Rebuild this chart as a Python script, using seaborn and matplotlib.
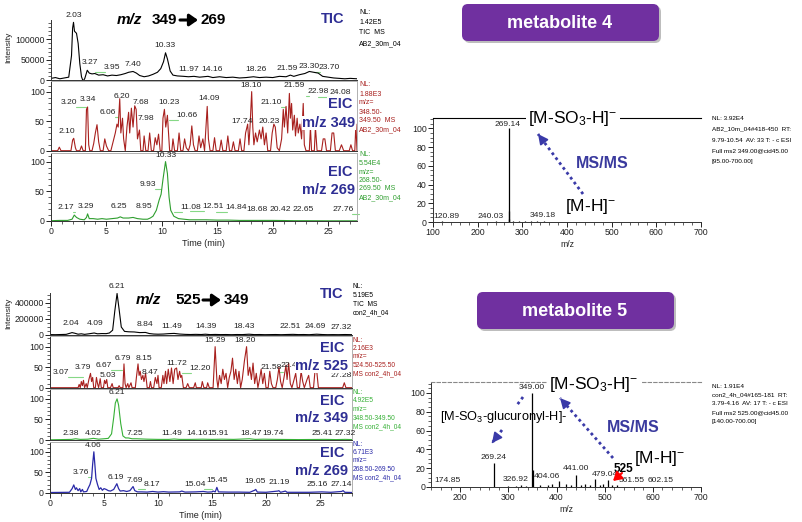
import matplotlib
matplotlib.use("Agg")
import matplotlib.pyplot as plt
import matplotlib.transforms as mtransforms
import pandas as pd
import seaborn as sns
from matplotlib.ticker import MultipleLocator, FuncFormatter
from matplotlib.patches import FancyBboxPatch

sns.set_style("ticks")
plt.rcParams["font.family"] = ["Liberation Sans", "DejaVu Sans"]
plt.rcParams["mathtext.fontset"] = "custom"
plt.rcParams["mathtext.rm"] = "Liberation Sans"
plt.rcParams["mathtext.it"] = "Liberation Sans:italic"
plt.rcParams["mathtext.bf"] = "Liberation Sans:bold"

# ---------------- data (time in min, intensity) ----------------
# metabolite 4 : TIC (x1000 counts)
TIC4 = [(0.0, 4), (0.4, 6), (0.8, 3), (1.2, 5), (1.6, 7), (1.85, 60), (1.95, 128), (2.03, 142),
        (2.12, 120), (2.3, 115), (2.45, 90), (2.6, 40), (2.75, 8), (2.9, -3), (3.05, 4), (3.27, 24),
        (3.45, 17), (3.7, 15), (3.95, 16), (4.3, 12), (4.7, 13), (5.1, 10), (5.5, 12), (5.9, 11),
        (6.3, 13), (6.7, 16), (7.0, 19), (7.4, 21), (7.7, 17), (8.0, 11), (8.4, 8), (8.8, 10),
        (9.2, 14), (9.6, 19), (9.9, 28), (10.15, 45), (10.33, 67), (10.5, 52), (10.75, 22),
        (11.0, 12), (11.4, 10), (11.97, 9), (12.4, 8), (12.9, 9), (13.4, 7), (14.16, 9), (14.6, 6),
        (15.2, 8), (15.8, 6), (16.4, 7), (17.0, 5), (17.6, 6), (18.26, 8), (18.8, 6), (19.4, 7),
        (20.0, 6), (20.6, 9), (21.2, 8), (21.59, 12), (21.9, 9), (22.4, 13), (22.9, 16), (23.3, 21),
        (23.7, 19), (24.1, 17), (24.5, 9), (25.0, 7), (25.5, 5), (26.0, 4), (26.5, 3), (27.0, 4),
        (27.6, 3)]
EIC4_349 = [(0, 0), (0.6, 0), (0.75, 6), (0.9, 0), (1.8, 0), (1.95, 18), (2.05, 21), (2.2, 5), (2.3, 0),
            (2.6, 0), (2.75, 8), (2.9, 0), (3.1, 0), (3.2, 70), (3.3, 74), (3.4, 10), (3.5, 0), (3.7, 0),
            (3.85, 12), (4.0, 30), (4.15, 44), (4.3, 15), (4.45, 0), (4.7, 0), (4.85, 20), (5.0, 8),
            (5.2, 0), (5.4, 0), (5.6, 15), (5.8, 30), (5.95, 45), (6.06, 40), (6.2, 88), (6.3, 30),
            (6.45, 55), (6.55, 20), (6.7, 0), (6.85, 40), (7.0, 65), (7.1, 30), (7.25, 72), (7.4, 40),
            (7.55, 76), (7.68, 70), (7.8, 20), (7.98, 35), (8.1, 0), (8.3, 0), (8.4, 25), (8.55, 0),
            (8.75, 0), (8.9, 30), (9.05, 0), (9.25, 0), (9.4, 22), (9.55, 10), (9.7, 28), (9.85, 0),
            (10.0, 0), (10.1, 55), (10.23, 70), (10.35, 40), (10.5, 60), (10.6, 30), (10.7, 0),
            (10.9, 0), (11.0, 20), (11.15, 0), (11.4, 0), (11.55, 30), (11.7, 0), (11.9, 0),
            (12.05, 20), (12.2, 5), (12.4, 0), (12.55, 10), (12.7, 42), (12.85, 10), (13.0, 0),
            (13.2, 0), (13.35, 25), (13.5, 5), (13.7, 20), (13.85, 0), (13.95, 30), (14.09, 75),
            (14.2, 20), (14.35, 0), (14.6, 0), (14.75, 22), (14.9, 0), (15.2, 0), (15.35, 18),
            (15.5, 0), (15.8, 0), (15.95, 25), (16.1, 0), (16.3, 0), (16.45, 15), (16.6, 0), (16.9, 0),
            (17.05, 20), (17.2, 0), (17.4, 0), (17.55, 30), (17.74, 45), (17.85, 10), (17.95, 40),
            (18.1, 100), (18.2, 40), (18.3, 10), (18.45, 30), (18.6, 15), (18.8, 35), (18.95, 20),
            (19.1, 40), (19.25, 10), (19.4, 30), (19.55, 0), (19.8, 0), (19.95, 30), (20.1, 45),
            (20.23, 40), (20.4, 5), (20.6, 0), (20.8, 20), (20.95, 70), (21.05, 40), (21.2, 75),
            (21.35, 30), (21.5, 97), (21.59, 55), (21.7, 80), (21.8, 35), (21.95, 60), (22.05, 25),
            (22.2, 55), (22.3, 30), (22.45, 45), (22.6, 20), (22.75, 80), (22.85, 10), (23.0, 0),
            (23.3, 0), (23.4, 40), (23.5, 0), (23.75, 0), (23.85, 40), (24.0, 0), (24.4, 0),
            (24.55, 20), (24.7, 20), (24.85, 0), (25.2, 0), (25.35, 30), (25.5, 30), (25.65, 0),
            (26.0, 0), (26.2, 10), (26.4, 0), (26.9, 0), (27.05, 10), (27.2, 0), (27.4, 0), (27.5, 45),
            (27.6, 0)]
EIC4_269 = [(0, 0.5), (0.8, 1), (1.5, 1), (1.9, 3), (2.1, 10), (2.3, 6), (2.6, 3), (3.0, 2), (3.2, 6),
            (3.3, 12), (3.45, 4), (3.8, 4), (4.2, 3), (4.6, 4), (5.0, 3), (5.5, 4), (6.0, 5), (6.25, 7),
            (6.5, 5), (7.0, 5), (7.4, 6), (7.8, 4), (8.3, 3), (8.7, 3), (8.95, 5), (9.2, 8), (9.5, 18),
            (9.75, 35), (9.93, 45), (10.1, 70), (10.33, 100), (10.5, 80), (10.65, 40), (10.8, 18),
            (11.08, 8), (11.5, 4), (12.0, 3), (12.5, 2), (13.0, 2), (14.0, 2), (15.0, 1.5), (16.0, 1.5),
            (17.0, 1), (18.0, 1), (19.0, 1), (20.0, 1), (21.0, 0.8), (22.0, 0.5), (23.0, 0.5),
            (25.0, 0.3), (27.6, 0.3)]

# metabolite 5 : TIC (x1000 counts)
TIC5 = [(0, 5), (0.5, 4), (1.0, 6), (1.5, 8), (1.8, 20), (2.04, 30), (2.3, 22), (2.6, 10), (2.9, 15),
        (3.2, 8), (3.6, 15), (4.09, 25), (4.4, 15), (4.8, 18), (5.2, 17), (5.5, 25), (5.8, 60),
        (6.0, 300), (6.21, 519), (6.4, 320), (6.6, 100), (6.9, 45), (7.3, 40), (7.8, 38), (8.3, 30),
        (8.84, 32), (9.2, 18), (9.6, 12), (10.0, 10), (10.5, 12), (11.0, 17), (11.49, 20), (12.0, 12),
        (12.5, 8), (13.0, 6), (13.5, 8), (14.0, 6), (14.39, 10), (14.8, 5), (15.3, 7), (15.8, 5),
        (16.3, 6), (16.8, 4), (17.3, 6), (17.8, 5), (18.43, 10), (18.9, 5), (19.4, 6), (19.9, 4),
        (20.4, 5), (20.9, 6), (21.4, 4), (21.9, 6), (22.51, 8), (23.0, 5), (23.5, 6), (24.0, 4),
        (24.69, 10), (25.2, 6), (25.7, 4), (26.2, 5), (26.7, 4), (27.32, 6), (28.0, 4)]
EIC5_525 = [(0, 0), (2.6, 0), (2.7, 8), (2.8, 0), (2.9, 15), (3.0, 5), (3.1, 18), (3.2, 0), (3.35, 10),
            (3.45, 0), (3.6, 20), (3.75, 35), (3.85, 15), (3.95, 25), (4.05, 0), (4.2, 0), (4.3, 25),
            (4.4, 10), (4.5, 0), (4.65, 22), (4.75, 0), (4.95, 0), (5.05, 18), (5.15, 10), (5.25, 20),
            (5.35, 0), (5.6, 0), (5.75, 10), (5.85, 0), (6.3, 0), (6.4, 5), (6.5, 0), (6.75, 0),
            (6.85, 58), (6.95, 10), (7.05, 0), (7.2, 10), (7.3, 0), (7.5, 12), (7.6, 0), (7.9, 0),
            (8.0, 25), (8.15, 58), (8.25, 30), (8.35, 40), (8.47, 20), (8.6, 30), (8.7, 15), (8.85, 35),
            (9.0, 0), (9.2, 0), (9.3, 15), (9.4, 0), (9.6, 0), (9.75, 25), (9.9, 10), (10.0, 30),
            (10.1, 0), (10.3, 0), (10.45, 30), (10.55, 10), (10.7, 40), (10.8, 10), (10.95, 45),
            (11.1, 15), (11.25, 48), (11.4, 10), (11.55, 45), (11.72, 48), (11.85, 20), (12.0, 40),
            (12.1, 25), (12.2, 30), (12.35, 0), (12.6, 0), (12.75, 10), (12.9, 0), (13.3, 0),
            (13.45, 12), (13.55, 0), (14.0, 0), (14.1, 15), (14.25, 0), (14.5, 0), (14.6, 12),
            (14.75, 0), (15.1, 0), (15.29, 100), (15.45, 20), (15.55, 0), (15.7, 30), (15.85, 10),
            (16.0, 45), (16.15, 20), (16.3, 35), (16.45, 0), (16.6, 25), (16.75, 40), (16.9, 72),
            (17.05, 20), (17.2, 45), (17.35, 10), (17.5, 40), (17.65, 0), (17.8, 20), (18.0, 65),
            (18.2, 100), (18.35, 30), (18.5, 50), (18.65, 20), (18.8, 60), (18.95, 10), (19.1, 35),
            (19.25, 0), (19.4, 20), (19.55, 45), (19.7, 10), (19.85, 35), (20.0, 0), (20.2, 0),
            (20.35, 40), (20.5, 10), (20.65, 0), (20.9, 0), (21.05, 20), (21.2, 50), (21.35, 15),
            (21.5, 0), (21.7, 30), (21.85, 55), (21.95, 20), (22.1, 60), (22.25, 10), (22.4, 0),
            (22.6, 20), (22.75, 35), (22.9, 0), (23.1, 0), (23.25, 40), (23.4, 15), (23.55, 0),
            (23.8, 20), (23.95, 30), (24.1, 0), (24.4, 0), (24.55, 45), (24.7, 40), (24.85, 0),
            (27.1, 0), (27.25, 12), (27.4, 0), (28, 0)]
EIC5_349 = [(0, 0.5), (1.0, 1), (2.0, 1.5), (2.38, 3), (2.8, 1.5), (3.5, 2), (4.02, 4), (4.5, 2), (5.0, 3),
            (5.4, 4), (5.7, 15), (5.9, 55), (6.05, 90), (6.21, 100), (6.35, 85), (6.55, 40), (6.75, 10),
            (7.0, 5), (7.25, 5), (7.6, 3), (8.0, 3), (8.5, 2.5), (9.0, 2), (10.0, 1.5), (11.0, 1.5),
            (11.49, 2.5), (12.0, 1.5), (13.0, 1.5), (14.16, 2), (15.0, 1.5), (15.91, 2), (17.0, 1.5),
            (18.47, 3), (19.0, 1.5), (19.74, 2), (21.0, 1.5), (23.0, 1), (25.41, 1.5), (26.5, 1),
            (27.32, 1.5), (28, 1)]
EIC5_269 = [(0, 0.5), (1.8, 1), (2.05, 10), (2.2, 19), (2.35, 8), (2.45, 12), (2.6, 5), (2.75, 10),
            (2.85, 2), (3.0, 8), (3.1, 2), (3.4, 3), (3.55, 12), (3.7, 20), (3.85, 35), (3.95, 70),
            (4.06, 100), (4.15, 70), (4.25, 35), (4.4, 20), (4.55, 8), (4.7, 12), (4.85, 6), (5.0, 10),
            (5.2, 8), (5.4, 5), (5.6, 4), (5.9, 8), (6.19, 22), (6.35, 10), (6.5, 4), (6.8, 5), (7.1, 3),
            (7.4, 5), (7.69, 15), (7.85, 5), (8.1, 2), (8.5, 2), (9.0, 1.5), (9.5, 3), (10.0, 1.5),
            (10.5, 2.5), (11.0, 1.5), (12.0, 2), (12.2, 4), (12.5, 1.5), (13.5, 2), (14.2, 3),
            (14.6, 1.5), (15.0, 2), (15.1, 4), (15.3, 2), (15.45, 13), (15.6, 2), (16.5, 1.5),
            (17.5, 1.5), (18.5, 1), (18.95, 6), (19.05, 8), (19.2, 1.5), (20.0, 1), (21.1, 4),
            (21.19, 5), (21.35, 1), (21.8, 4), (21.95, 1), (23.0, 1), (24.0, 1), (25.16, 2), (26.0, 1),
            (27.0, 3), (27.14, 5), (27.3, 1), (28, 0.5)]

# MS/MS spectra (m/z, relative abundance)
MS4_MZ = [120.89, 240.03, 269.14, 270.1, 271.0, 280.0, 292.0, 305.0, 320.0, 333.0, 349.18]
MS4_INT = [0.6, 0.8, 100, 12, 3, 1.5, 1.0, 1.2, 1.0, 1.2, 1.5]
MS5_MZ = [174.85, 269.24, 300.0, 316.0, 326.92, 336.0, 349.00, 350.2, 365.0, 383.0, 390.0, 404.06,
          420.0, 430.0, 441.00, 450.0, 460.0, 470.0, 479.04, 490.0, 497.0, 507.0, 515.0, 525.0,
          561.55, 602.15]
MS5_INT = [0.5, 25, 1, 1, 2, 1.5, 100, 18, 2, 2, 3, 6, 3, 2, 13, 2, 3, 2, 8, 2, 3, 7, 2, 2, 0.5, 0.5]

# peak labels: (text, time, intensity)
LAB_TIC4 = [("2.03", 2.08, 160000), ("3.27", 3.5, 42000), ("3.95", 5.5, 30000), ("7.40", 7.4, 37000),
            ("10.33", 10.3, 84000), ("11.97", 12.4, 25000), ("14.16", 14.5, 25000),
            ("18.26", 18.5, 25000), ("21.59", 21.3, 29000), ("23.30", 23.3, 34000),
            ("23.70", 25.1, 32000)]
LAB_E4_349 = [("3.20", 1.6, 82), ("3.34", 3.3, 86), ("6.20", 6.4, 91), ("7.68", 8.1, 82),
              ("6.06", 5.1, 64), ("7.98", 8.6, 55), ("2.10", 1.45, 32), ("10.23", 10.6, 82),
              ("10.66", 12.3, 60), ("14.09", 14.3, 88), ("17.74", 17.2, 49), ("18.10", 18.0, 110),
              ("20.23", 19.7, 49), ("21.10", 19.9, 82), ("21.59", 21.9, 110), ("22.98", 24.1, 100),
              ("24.08", 26.1, 98)]
LAB_E4_269 = [("10.33", 10.4, 110), ("9.93", 8.7, 61), ("2.17", 1.35, 22), ("3.29", 3.15, 24),
              ("6.25", 6.15, 25), ("8.95", 8.4, 25), ("11.08", 12.6, 22), ("12.51", 14.6, 25),
              ("14.84", 16.7, 22), ("18.68", 18.6, 20), ("20.42", 20.7, 20), ("22.65", 22.7, 20),
              ("27.76", 26.35, 20)]
LAB_TIC5 = [("6.21", 6.2, 600000), ("2.04", 1.95, 138000), ("4.09", 4.15, 138000),
            ("8.84", 8.8, 125000), ("11.49", 11.3, 112000), ("14.39", 14.45, 112000),
            ("18.43", 18.0, 112000), ("22.51", 22.2, 100000), ("24.69", 24.6, 100000),
            ("27.32", 26.95, 88000)]
LAB_E5_525 = [("15.29", 15.3, 114), ("18.20", 18.05, 114), ("6.79", 6.75, 70), ("8.15", 8.7, 72),
              ("3.79", 3.05, 50), ("6.67", 5.0, 55), ("11.72", 11.75, 58), ("12.20", 13.9, 48),
              ("3.07", 1.0, 36), ("5.03", 5.35, 29), ("8.47", 9.25, 36), ("21.58", 20.45, 50),
              ("22.4", 22.1, 55), ("27.28", 26.95, 29)]
LAB_E5_349 = [("6.21", 6.2, 115), ("2.38", 1.95, 17), ("4.02", 3.95, 17), ("7.25", 7.9, 17),
              ("11.49", 11.3, 15), ("14.16", 13.6, 15), ("15.91", 15.55, 15), ("18.47", 18.6, 15),
              ("19.74", 20.65, 15), ("25.41", 25.2, 15), ("27.32", 27.3, 15)]
LAB_E5_269 = [("4.06", 3.98, 116), ("3.76", 2.85, 50), ("6.19", 6.1, 36), ("7.69", 7.9, 31),
              ("8.17", 9.45, 19), ("15.04", 13.4, 21), ("15.45", 15.45, 31), ("19.05", 19.0, 28),
              ("21.19", 21.2, 26), ("25.16", 24.7, 19), ("27.14", 26.95, 21)]
LAB_MS4 = [("269.14", 267, 104), ("120.89", 131, 6), ("240.03", 230, 6), ("349.18", 346, 6.5)]
LAB_MS5 = [("349.00", 348, 106), ("269.24", 268, 31), ("174.85", 174, 6.7), ("326.92", 315, 8.5),
           ("404.06", 379, 11), ("441.00", 441, 19.5), ("479.04", 500, 12.8), ("561.55", 556, 6.7),
           ("602.15", 615.5, 6.7)]

# ---------------- figure ----------------
W, H = 803, 522
fig = plt.figure(figsize=(W / 100, H / 100), dpi=100)


def add_ax(x0, y0, x1, y1):
    return fig.add_axes([x0 / W, 1 - y1 / H, (x1 - x0) / W, (y1 - y0) / H])


DARK = "#222222"
BLUE_T = "#2E2E94"
LEADER = "#86D886"
LBL = 6.1
TCK = 6.3


def draw_trace(ax, pairs, color, scale=1.0, lw=0.8):
    df = pd.DataFrame(pairs, columns=["t", "v"])
    df["v"] = df["v"] * scale
    sns.lineplot(data=df, x="t", y="v", ax=ax, color=color, lw=lw, sort=False,
                 estimator=None, errorbar=None)
    return df


def style_chrom(ax, xmax, ylim, yticks, yminor, show_x=False, box=True, fmt=None):
    ax.set_xlim(0, xmax)
    ax.set_ylim(*ylim)
    ax.set_yticks(yticks)
    ax.yaxis.set_minor_locator(MultipleLocator(yminor))
    ax.xaxis.set_major_locator(MultipleLocator(5))
    ax.xaxis.set_minor_locator(MultipleLocator(1))
    if fmt is not None:
        ax.yaxis.set_major_formatter(FuncFormatter(fmt))
    ax.tick_params(which="major", length=3.5, width=0.7, labelsize=TCK, colors=DARK, pad=1)
    ax.tick_params(which="minor", length=2, width=0.5, colors=DARK)
    if not show_x:
        ax.tick_params(axis="x", which="both", length=0, labelbottom=False)
    for s in ("left", "bottom"):
        ax.spines[s].set_color("#333333")
        ax.spines[s].set_linewidth(0.7)
    for s in ("top", "right"):
        ax.spines[s].set_visible(box)
        ax.spines[s].set_color("#B0B0B0")
        ax.spines[s].set_linewidth(0.7)
    ax.set_xlabel("")
    ax.set_ylabel("")
    ax.patch.set_alpha(0)


def put_labels(ax, labels, size=LBL, leaders=True):
    below = mtransforms.offset_copy(ax.transData, fig=fig, y=-4.5, units="dots")
    x0, x1 = ax.get_xlim()
    px_per_unit = ax.get_position().width * W / (x1 - x0)
    for s, x, y in labels:
        ax.text(x, y, s, fontsize=size, ha="center", va="center", color=DARK, clip_on=False)
        if leaders:
            peak = float(s)
            half = (len(s) * 3.6 / 2) / px_per_unit
            if abs(peak - x) > half + 0.15:
                start = x + half if peak > x else x - half
                ax.plot([start, peak], [y, y], color=LEADER, lw=0.8, transform=below,
                        clip_on=False, zorder=1)


intfmt = lambda v, p: f"{int(round(v))}"

# ---- metabolite 4 chromatograms ----
a1 = add_ax(51, 20.3, 357, 80)
draw_trace(a1, TIC4, "black", 1000)
style_chrom(a1, 27.6, (0, 147000), [0, 50000, 100000], 10000, box=False, fmt=intfmt)
put_labels(a1, LAB_TIC4)

a2 = add_ax(51, 81, 357, 150.7)
draw_trace(a2, EIC4_349, "#A8201E")
style_chrom(a2, 27.6, (0, 118), [0, 50, 100], 10)
put_labels(a2, LAB_E4_349)

a3 = add_ax(51, 152.7, 357, 221)
draw_trace(a3, EIC4_269, "#2E9E2E")
style_chrom(a3, 27.6, (0, 115), [0, 50, 100], 10, show_x=True)
put_labels(a3, LAB_E4_269)

# ---- metabolite 5 chromatograms ----
b1 = add_ax(50, 292.6, 352.4, 335)
d5 = draw_trace(b1, TIC5, "black", 1000)
shade = d5[d5["t"] >= 13.6]
b1.fill_between(shade["t"], 0, shade["v"].clip(upper=9000), color="#A8A8A8", lw=0)
style_chrom(b1, 28, (0, 530000), [0, 200000, 400000], 50000, box=False, fmt=intfmt)
put_labels(b1, LAB_TIC5)

b2 = add_ax(50, 336, 352.4, 387.7)
draw_trace(b2, EIC5_525, "#A8201E")
style_chrom(b2, 28, (0, 126), [0, 50, 100], 10)
put_labels(b2, LAB_E5_525)

b3 = add_ax(50, 389, 352.4, 440)
draw_trace(b3, EIC5_349, "#36B036")
style_chrom(b3, 28, (0, 124), [0, 50, 100], 10)
put_labels(b3, LAB_E5_349)

b4 = add_ax(50, 442, 352.4, 492.7)
draw_trace(b4, EIC5_269, "#2A2AA8", lw=0.9)
style_chrom(b4, 28, (0, 124), [0, 50, 100], 10, show_x=True)
put_labels(b4, LAB_E5_269)


# ---- spectra ----
def style_spec(ax, xlim, ylim, top_style):
    ax.set_xlim(*xlim)
    ax.set_ylim(*ylim)
    ax.set_yticks([0, 20, 40, 60, 80, 100])
    ax.yaxis.set_minor_locator(MultipleLocator(5))
    ax.xaxis.set_major_locator(MultipleLocator(100))
    ax.xaxis.set_minor_locator(MultipleLocator(20))
    ax.tick_params(which="major", length=3.5, width=0.7, labelsize=TCK, colors=DARK, pad=1)
    ax.tick_params(which="minor", length=2, width=0.5, colors=DARK)
    ax.spines["right"].set_visible(False)
    for s in ("left", "bottom"):
        ax.spines[s].set_color("#333333")
        ax.spines[s].set_linewidth(0.7)
    ax.spines["top"].set_color(top_style[0])
    ax.spines["top"].set_linewidth(0.8)
    ax.spines["top"].set_linestyle(top_style[1])
    ax.set_xlabel("m/z", fontsize=6.2, color=DARK, labelpad=2)
    ax.set_ylabel("")
    ax.patch.set_alpha(0)


s1 = add_ax(433, 118, 701, 222)
s1.vlines(MS4_MZ, 0, MS4_INT, color="black", lw=0.9)
style_spec(s1, (100, 700), (0, 111), ("black", "-"))
put_labels(s1, LAB_MS4, leaders=False)

s2 = add_ax(431.5, 382, 701, 487)
s2.vlines(MS5_MZ, 0, MS5_INT, color="black", lw=0.9)
style_spec(s2, (140, 700), (0, 111.7), ("#888888", (0, (3, 2))))
put_labels(s2, LAB_MS5, leaders=False)

# ---------------- overlay (pixel coordinates) ----------------
ov = fig.add_axes([0, 0, 1, 1])
ov.set_xlim(0, W)
ov.set_ylim(H, 0)
ov.axis("off")


def T(x, y, s, size, color="black", weight="normal", ha="center", **kw):
    ov.text(x, y, s, fontsize=size, color=color, weight=weight, ha=ha, va="center", **kw)


# titles of transitions
T(129, 20, "m/z", 11, weight="bold", style="italic")
T(164, 20, "349", 11, weight="bold")
T(213, 20, "269", 11, weight="bold")
ov.annotate("", xy=(198, 20), xytext=(180, 20),
            arrowprops=dict(arrowstyle="-|>,head_length=0.5,head_width=0.35", lw=2.2, color="black",
                            shrinkA=0, shrinkB=0))
T(148, 300, "m/z", 11, weight="bold", style="italic")
T(188, 300, "525", 11, weight="bold")
T(236, 300, "349", 11, weight="bold")
ov.annotate("", xy=(221, 300), xytext=(203, 300),
            arrowprops=dict(arrowstyle="-|>,head_length=0.5,head_width=0.35", lw=2.2, color="black",
                            shrinkA=0, shrinkB=0))

# trace names (white backing hides trace behind, as in the reference)
wb = dict(fc="white", ec="none", pad=0.3)
for x, y, s in [(333, 19, "TIC"), (340, 104, "EIC"), (329, 123, "m/z 349"), (340, 172, "EIC"),
                (329, 190, "m/z 269"), (332, 294, "TIC"), (332, 348, "EIC"), (322, 366, "m/z 525"),
                (332, 401, "EIC"), (322, 418, "m/z 349"), (332, 453, "EIC"), (322, 471, "m/z 269")]:
    T(x, y, s, 10.5, color=BLUE_T, weight="bold", bbox=wb)


# instrument info texts
def info(x, y, lines, color, step, size=5.0):
    for i, s in enumerate(lines):
        ov.text(x, y + i * step, s, fontsize=size, color=color, ha="left", va="center")


info(359, 12, ["NL:", "1.42E5", "TIC  MS", "AB2_30m_04"], "black", 10.5)
info(359, 85, ["NL:", "1.88E3", "m/z=", "348.50-", "349.50  MS", "AB2_30m_04"], "#A8201E", 9)
info(359, 155, ["NL:", "5.54E4", "m/z=", "268.50-", "269.50  MS", "AB2_30m_04"], "#2E9E2E", 8.5)
info(353, 287, ["NL:", "5.19E5", "TIC  MS", "con2_4h_04"], "black", 8.5, 4.8)
info(353, 340, ["NL:", "2.16E3", "m/z=", "524.50-525.50", "MS con2_4h_04"], "#A8201E", 8.5, 4.8)
info(353, 392, ["NL:", "4.92E5", "m/z=", "348.50-349.50", "MS con2_4h_04"], "#36B036", 8.7, 4.8)
info(353, 444, ["NL:", "6.71E3", "m/z=", "268.50-269.50", "MS con2_4h_04"], "#2A2AA8", 8.5, 4.8)
info(712, 118, ["NL: 3.92E4", "AB2_10m_04#418-450  RT:", "9.79-10.54  AV: 33 T: - c ESI",
                "Full ms2 349.00@cid45.00", "[95.00-700.00]"], "black", 11, 4.6)
info(712, 386, ["NL: 1.91E4", "con2_4h_04#165-181  RT:", "3.79-4.16  AV: 17 T: - c ESI",
                "Full ms2 525.00@cid45.00", "[140.00-700.00]"], "black", 8.8, 4.6)

# axis titles
for y in (47, 313):
    ov.text(9, y, "Intensity", fontsize=6.0, rotation=90, ha="center", va="center", color=DARK)
T(203, 244, "Time (min)", 6.5, color=DARK)
T(200, 515, "Time (min)", 6.5, color=DARK)

# banners
for x0, y0, s in [(462, 4, "metabolite 4"), (477, 292, "metabolite 5")]:
    ov.add_patch(FancyBboxPatch((x0 + 2, y0 + 2), 197, 37, boxstyle="round,pad=0,rounding_size=6",
                                fc="#BDBDBD", ec="none"))
    ov.add_patch(FancyBboxPatch((x0, y0), 197, 37, boxstyle="round,pad=0,rounding_size=6",
                                fc="#7030A0", ec="none"))
    T(x0 + 98, y0 + 19, s, 13, color="white", weight="bold")

# ion annotations
white = dict(fc="white", ec="none", pad=1.5)
T(573, 118, r"[M-SO$_3$-H]$^{-}$", 12.5, bbox=white)
T(602, 163, "MS/MS", 11.5, color="#3A3A9E", weight="bold")
T(591, 207, r"[M-H]$^{-}$", 12.5)
T(594, 384, r"[M-SO$_3$-H]$^{-}$", 12.5, bbox=white)
T(504, 417, r"[M-SO$_3$-glucuronyl-H]-", 9.2)
T(633, 428, "MS/MS", 11.5, color="#3A3A9E", weight="bold")
T(660, 458, r"[M-H]$^{-}$", 12.5)
T(624, 469, "525", 8.5, weight="bold")


def dotted_arrow(x0, y0, x1, y1, head=True):
    c = "#3A3AA8"
    ov.plot([x0, x1], [y0, y1], color=c, lw=2.0, ls=(0, (1, 1.2)))
    if head:
        ov.annotate("", xy=(x1, y1), xytext=(x1 + (x0 - x1) * 0.05, y1 + (y0 - y1) * 0.05),
                    arrowprops=dict(arrowstyle="-|>,head_length=0.6,head_width=0.3", color=c, lw=1.2,
                                    shrinkA=0, shrinkB=0))


dotted_arrow(583, 194, 538, 134)
dotted_arrow(613, 458, 560, 398)
dotted_arrow(523, 397, 517, 405, head=False)
dotted_arrow(502, 430, 492, 443)
ov.annotate("", xy=(613, 481), xytext=(622, 473),
            arrowprops=dict(arrowstyle="-|>,head_length=0.5,head_width=0.3", color="#FF0000", lw=1.5,
                            shrinkA=0, shrinkB=0))

fig.savefig("out.png", dpi=100)
